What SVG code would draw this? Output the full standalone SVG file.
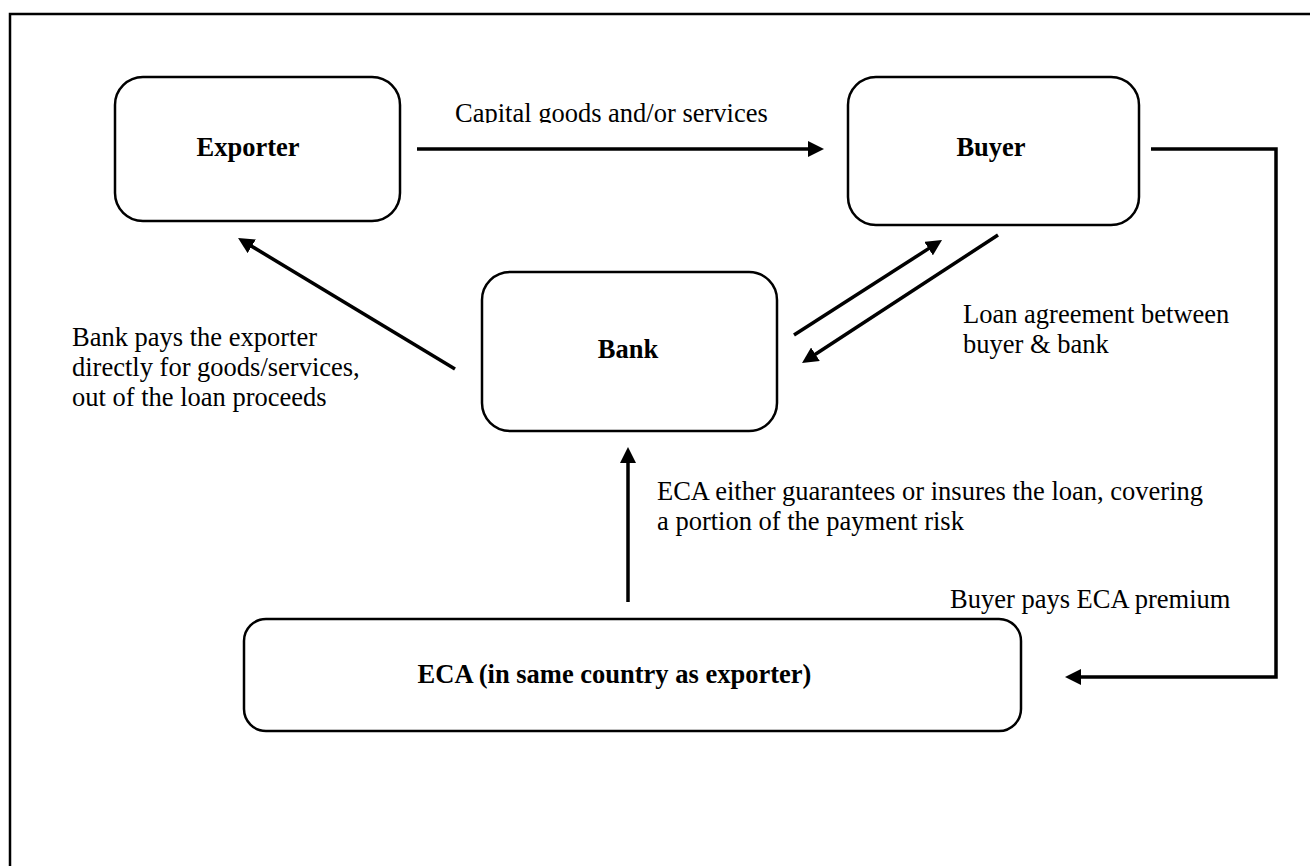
<svg xmlns="http://www.w3.org/2000/svg" width="1310" height="866" viewBox="0 0 1310 866">
  <style>
    .box { fill: #fff; stroke: #000; stroke-width: 2.5; }
    .lbl { font-family: "Liberation Serif", "Times New Roman", serif; font-size: 26.5px; fill: #000; }
    .nm { font-family: "Liberation Serif", "Times New Roman", serif; font-size: 26.5px; font-weight: bold; fill: #000; text-anchor: middle; }
    .con { fill: none; stroke: #000; stroke-width: 3.5; }
  </style>
  <defs>
    <marker id="ah" markerUnits="userSpaceOnUse" markerWidth="16" markerHeight="16" refX="6" refY="8" orient="auto">
      <path d="M0,0 L16,8 L0,16 z" fill="#000"/>
    </marker>
    <clipPath id="capclip">
      <rect x="440" y="90" width="360" height="33"/>
    </clipPath>
  </defs>
  <rect width="1310" height="866" fill="#fff"/>
  <path d="M10,866 V14 H1310" fill="none" stroke="#000" stroke-width="2.5"/>

  <g id="exporter">
    <rect class="box" x="115" y="77" width="285" height="144" rx="28" ry="28"/>
    <text class="nm" x="248" y="156">Exporter</text>
  </g>
  <g id="buyer">
    <rect class="box" x="848" y="77" width="291" height="148" rx="28" ry="28"/>
    <text class="nm" x="991" y="156">Buyer</text>
  </g>
  <g id="bank">
    <rect class="box" x="482" y="272" width="295" height="159" rx="28" ry="28"/>
    <text class="nm" x="628" y="358">Bank</text>
  </g>
  <g id="eca">
    <rect class="box" x="244" y="619" width="777" height="112" rx="22" ry="22"/>
    <text class="nm" x="614.5" y="683">ECA (in same country as exporter)</text>
  </g>

  <g id="connectors">
    <line class="con" x1="417" y1="149" x2="814" y2="149" marker-end="url(#ah)"/>
    <line class="con" x1="455" y1="369" x2="246.6" y2="243.2" marker-end="url(#ah)"/>
    <line class="con" x1="794" y1="335" x2="933.6" y2="245.4" marker-end="url(#ah)"/>
    <line class="con" x1="998" y1="235" x2="810.4" y2="357.5" marker-end="url(#ah)"/>
    <line class="con" x1="628" y1="602" x2="628" y2="457" marker-end="url(#ah)"/>
    <path class="con" d="M1151,149 H1276 V677 H1075" marker-end="url(#ah)"/>
  </g>

  <g id="labels">
    <text class="lbl" x="455" y="122" clip-path="url(#capclip)">Capital goods and/or services</text>
    <text class="lbl" x="72" y="346">Bank pays the exporter</text>
    <text class="lbl" x="72" y="376">directly for goods/services,</text>
    <text class="lbl" x="72" y="406">out of the loan proceeds</text>
    <text class="lbl" x="963" y="323">Loan agreement between</text>
    <text class="lbl" x="963" y="353">buyer &amp; bank</text>
    <text class="lbl" x="657" y="500">ECA either guarantees or insures the loan, covering</text>
    <text class="lbl" x="657" y="530">a portion of the payment risk</text>
    <text class="lbl" x="950" y="608">Buyer pays ECA premium</text>
  </g>
</svg>
